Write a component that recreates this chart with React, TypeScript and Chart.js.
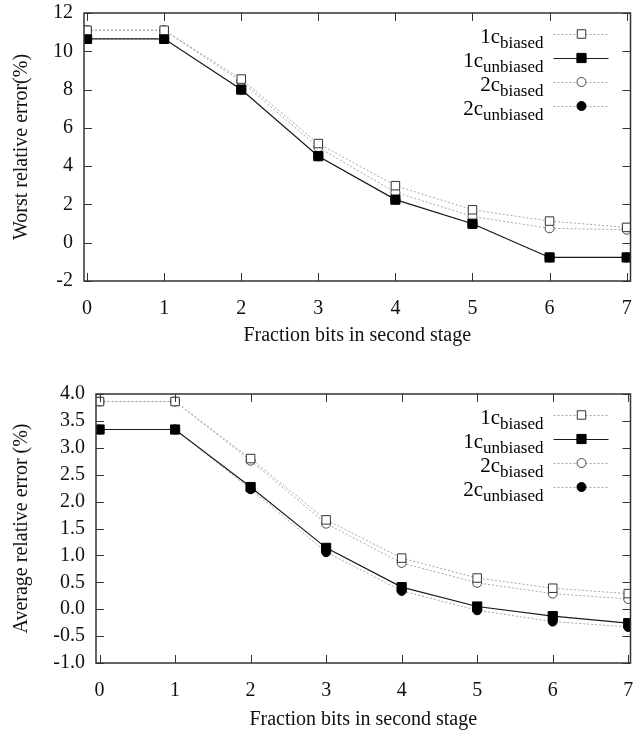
import React, { useEffect, useRef } from "react";
import { Chart, registerables } from "chart.js";

Chart.register(...registerables);

// ---------------- data ----------------
const X_VALUES = [0, 1, 2, 3, 4, 5, 6, 7];
const X_TICKS = [0, 1, 2, 3, 4, 5, 6, 7];

const WORST_1C_BIASED = [11.1, 11.1, 8.55, 5.18, 2.98, 1.72, 1.13, 0.8];
const WORST_1C_UNBIASED = [10.65, 10.65, 8.0, 4.52, 2.25, 0.99, -0.77, -0.77];
const WORST_2C_BIASED = [11.1, 11.1, 8.42, 4.98, 2.63, 1.37, 0.75, 0.68];
const WORST_2C_UNBIASED = [10.65, 10.65, 8.0, 4.52, 2.25, 0.99, -0.77, -0.77];

const AVG_1C_BIASED = [3.86, 3.86, 2.8, 1.66, 0.95, 0.58, 0.39, 0.29];
const AVG_1C_UNBIASED = [3.34, 3.34, 2.27, 1.14, 0.41, 0.05, -0.13, -0.26];
const AVG_2C_BIASED = [3.86, 3.86, 2.76, 1.59, 0.86, 0.49, 0.29, 0.19];
const AVG_2C_UNBIASED = [3.34, 3.34, 2.23, 1.06, 0.34, -0.02, -0.23, -0.33];

const LEGEND_MAIN = ["1c", "1c", "2c", "2c"];
const LEGEND_SUB = ["biased", "unbiased", "biased", "unbiased"];

const X_TITLE = "Fraction bits in second stage";
const Y_TITLE_TOP = "Worst relative error(%)";
const Y_TITLE_BOTTOM = "Average relative error (%)";

const FONT = '"Liberation Serif", "Times New Roman", serif';

// ---------------- styles ----------------
const SERIES_STYLES = [
  { pointStyle: "rect", pointRadius: 6, fill: "#ffffff", stroke: "#333333", line: "#a8a8a8", lineWidth: 1, dash: [2, 2] },
  { pointStyle: "rect", pointRadius: 6.5, fill: "#000000", stroke: "#000000", line: "#1a1a1a", lineWidth: 1.2, dash: [] },
  { pointStyle: "circle", pointRadius: 4.5, fill: "#ffffff", stroke: "#444444", line: "#a8a8a8", lineWidth: 1, dash: [2, 2] },
  { pointStyle: "circle", pointRadius: 4.5, fill: "#000000", stroke: "#000000", line: "#a8a8a8", lineWidth: 1, dash: [2, 2] },
];

function buildDatasets(series: number[][]) {
  return series.map((vals, i) => {
    const s = SERIES_STYLES[i];
    return {
      label: LEGEND_MAIN[i] + LEGEND_SUB[i],
      data: X_VALUES.map((x, j) => ({ x, y: vals[j] })),
      borderColor: s.line,
      borderWidth: s.lineWidth,
      borderDash: s.dash,
      pointStyle: s.pointStyle,
      pointRadius: s.pointRadius,
      pointBackgroundColor: s.fill,
      pointBorderColor: s.stroke,
      pointBorderWidth: 1,
      tension: 0,
      fill: false,
    };
  });
}

const framePlugin = {
  id: "gnuplotFrame",
  afterDatasetsDraw(chart: any) {
    const { ctx, chartArea } = chart;
    const { left, right, top, bottom } = chartArea;
    const xs = chart.scales.x;
    const ys = chart.scales.y;
    const tl = 8;
    ctx.save();
    ctx.strokeStyle = "#333333";
    ctx.lineWidth = 1;
    ctx.beginPath();
    xs.ticks.forEach((t: any) => {
      const px = Math.round(xs.getPixelForValue(t.value)) + 0.5;
      ctx.moveTo(px, bottom);
      ctx.lineTo(px, bottom - tl);
      ctx.moveTo(px, top);
      ctx.lineTo(px, top + tl);
    });
    ys.ticks.forEach((t: any) => {
      const py = Math.round(ys.getPixelForValue(t.value)) + 0.5;
      ctx.moveTo(left, py);
      ctx.lineTo(left + tl, py);
      ctx.moveTo(right, py);
      ctx.lineTo(right - tl, py);
    });
    ctx.stroke();
    ctx.lineWidth = 1.5;
    ctx.strokeStyle = "#333333";
    ctx.strokeRect(left, top, right - left, bottom - top);
    ctx.restore();
  },
  afterDraw(chart: any) {
    const { ctx, chartArea } = chart;
    const textRight = chartArea.right - 87;
    const lineStart = chartArea.right - 77;
    const lineEnd = chartArea.right - 22;
    const markerX = chartArea.right - 49;
    ctx.save();
    chart.data.datasets.forEach((ds: any, i: number) => {
      const cy = chartArea.top + 21 + 24 * i;
      ctx.fillStyle = "#000000";
      ctx.textBaseline = "alphabetic";
      ctx.textAlign = "left";
      ctx.font = `21px ${FONT}`;
      const mainW = ctx.measureText(LEGEND_MAIN[i]).width;
      ctx.font = `17px ${FONT}`;
      const subW = ctx.measureText(LEGEND_SUB[i]).width;
      const startX = textRight - mainW - subW;
      ctx.font = `21px ${FONT}`;
      ctx.fillText(LEGEND_MAIN[i], startX, cy + 9);
      ctx.font = `17px ${FONT}`;
      ctx.fillText(LEGEND_SUB[i], startX + mainW, cy + 14);
      ctx.beginPath();
      ctx.strokeStyle = ds.borderColor;
      ctx.lineWidth = ds.borderWidth;
      ctx.setLineDash(ds.borderDash || []);
      ctx.moveTo(lineStart, cy + 0.5);
      ctx.lineTo(lineEnd, cy + 0.5);
      ctx.stroke();
      ctx.setLineDash([]);
      ctx.fillStyle = ds.pointBackgroundColor;
      ctx.strokeStyle = ds.pointBorderColor;
      ctx.lineWidth = 1;
      const r = ds.pointStyle === "rect" ? ds.pointRadius * Math.SQRT1_2 : ds.pointRadius;
      ctx.beginPath();
      if (ds.pointStyle === "rect") {
        ctx.rect(markerX - r, cy - r, 2 * r, 2 * r);
      } else {
        ctx.arc(markerX, cy, r, 0, Math.PI * 2);
      }
      ctx.fill();
      ctx.stroke();
    });
    ctx.restore();
  },
};

interface PanelOpts {
  series: number[][];
  xMin: number;
  xMax: number;
  yMin: number;
  yMax: number;
  yStep: number;
  yDecimals: number;
  yTitle: string;
  yWidth: number;
  xHeight: number;
  padTop: number;
  padRight: number;
  xTitlePadBottom: number;
}

function clearScalePadding(scale: any) {
  scale.paddingLeft = 0;
  scale.paddingRight = 0;
  scale.paddingTop = 0;
  scale.paddingBottom = 0;
}

function buildConfig(p: PanelOpts): any {
  return {
    type: "line",
    data: { datasets: buildDatasets(p.series) },
    plugins: [framePlugin],
    options: {
      animation: false,
      responsive: false,
      maintainAspectRatio: false,
      events: [],
      layout: { padding: { top: p.padTop, right: p.padRight, left: 0, bottom: 0 } },
      plugins: { legend: { display: false }, tooltip: { enabled: false }, title: { display: false } },
      scales: {
        x: {
          type: "linear",
          min: p.xMin,
          max: p.xMax,
          afterBuildTicks: (scale: any) => {
            scale.ticks = X_TICKS.map((v) => ({ value: v }));
          },
          afterFit: (scale: any) => {
            scale.height = p.xHeight;
            clearScalePadding(scale);
          },
          grid: { display: false, drawTicks: false },
          border: { display: false },
          ticks: {
            padding: 16,
            color: "#111111",
            font: { family: FONT, size: 20 },
            maxRotation: 0,
            autoSkip: false,
            callback: (v: any) => String(v),
          },
          title: {
            display: true,
            text: X_TITLE,
            color: "#111111",
            font: { family: FONT, size: 20 },
            padding: { top: 0, bottom: p.xTitlePadBottom },
          },
        },
        y: {
          type: "linear",
          min: p.yMin,
          max: p.yMax,
          afterFit: (scale: any) => {
            scale.width = p.yWidth;
            clearScalePadding(scale);
          },
          grid: { display: false, drawTicks: false },
          border: { display: false },
          ticks: {
            stepSize: p.yStep,
            padding: 11,
            color: "#111111",
            font: { family: FONT, size: 20 },
            autoSkip: false,
            callback: (v: any) => Number(v).toFixed(p.yDecimals),
          },
          title: {
            display: true,
            text: p.yTitle,
            color: "#111111",
            font: { family: FONT, size: 20 },
            padding: { top: 10, bottom: 0 },
          },
        },
      },
    },
  };
}

export default function App() {
  const topRef = useRef<HTMLCanvasElement | null>(null);
  const bottomRef = useRef<HTMLCanvasElement | null>(null);

  useEffect(() => {
    const charts: Chart[] = [];
    if (topRef.current) {
      charts.push(
        new Chart(
          topRef.current,
          buildConfig({
            series: [WORST_1C_BIASED, WORST_1C_UNBIASED, WORST_2C_BIASED, WORST_2C_UNBIASED],
            xMin: -0.04,
            xMax: 7.05,
            yMin: -2,
            yMax: 12,
            yStep: 2,
            yDecimals: 0,
            yTitle: Y_TITLE_TOP,
            yWidth: 84,
            xHeight: 69,
            padTop: 13,
            padRight: 1,
            xTitlePadBottom: 2,
          })
        )
      );
    }
    if (bottomRef.current) {
      charts.push(
        new Chart(
          bottomRef.current,
          buildConfig({
            series: [AVG_1C_BIASED, AVG_1C_UNBIASED, AVG_2C_BIASED, AVG_2C_UNBIASED],
            xMin: -0.047,
            xMax: 7.03,
            yMin: -1,
            yMax: 4,
            yStep: 0.5,
            yDecimals: 1,
            yTitle: Y_TITLE_BOTTOM,
            yWidth: 96,
            xHeight: 77,
            padTop: 39,
            padRight: 1,
            xTitlePadBottom: 8,
          })
        )
      );
    }
    return () => charts.forEach((c) => c.destroy());
  }, []);

  return (
    <div style={{ position: "absolute", left: 0, top: 0, width: 638, height: 740, background: "#ffffff" }}>
      <canvas ref={topRef} width={638} height={350} style={{ position: "absolute", left: 0, top: 0, width: 638, height: 350 }} />
      <canvas ref={bottomRef} width={638} height={385} style={{ position: "absolute", left: 0, top: 355, width: 638, height: 385 }} />
    </div>
  );
}
